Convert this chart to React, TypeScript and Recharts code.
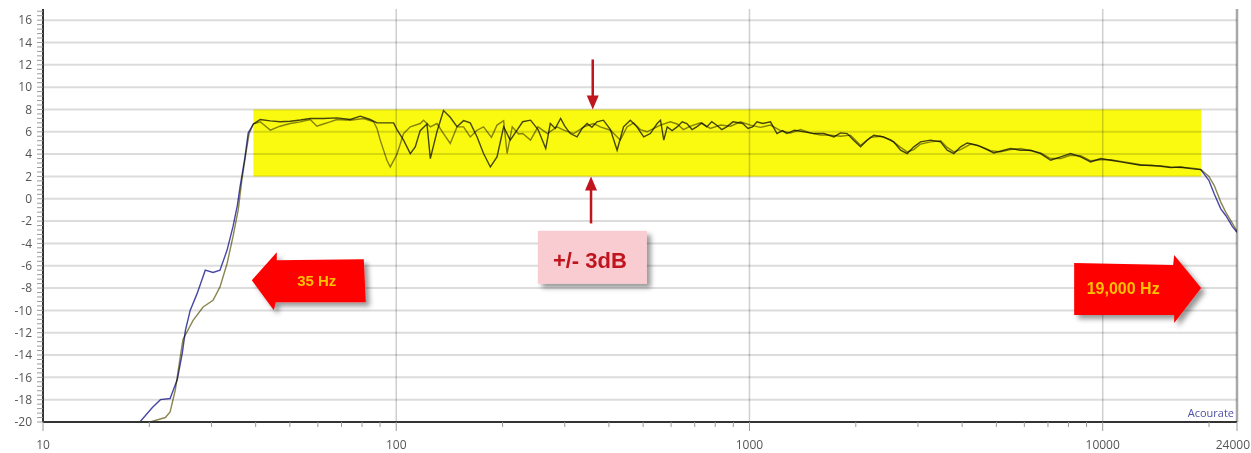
import React from 'react';
import { LineChart, Line, XAxis, YAxis, ReferenceLine, ReferenceArea, ReferenceDot } from 'recharts';

// ---- data ----
const aFreq = [18.8, 20.4, 21.5, 22.9, 24.0, 24.8, 25.3, 26.1, 27.3, 28.8, 30.3, 31.7, 33.2, 34.5, 35.5, 36.1, 37.3, 38.1, 39.4, 41.2, 44.0, 46.9, 50.1, 53.5, 57.1, 62.2, 67.9, 74.1, 79.1, 84.4, 88.2, 94.1, 98.3, 100.5, 104.9, 109.6, 113.2, 116.9, 122.2, 124.9, 130.4, 136.1, 142.2, 148.6, 155.1, 162.0, 169.3, 176.7, 184.7, 192.9, 201.4, 210.3, 219.8, 228, 240, 252, 265, 273, 282, 292, 300, 311, 325, 336, 347, 358, 370, 386, 404, 422, 440, 460, 480, 502, 524, 548, 560, 572, 585, 604, 624, 645, 665, 688, 709, 733, 757, 782, 808, 835, 862, 898, 957, 990, 1020, 1050, 1090, 1147, 1196, 1240, 1276, 1340, 1428, 1523, 1625, 1734, 1810, 1890, 1972, 2063, 2153, 2248, 2397, 2560, 2678, 2796, 2920, 3051, 3256, 3476, 3628, 3790, 3960, 4134, 4410, 4706, 4915, 5250, 5488, 5857, 6252, 6674, 7123, 7603, 8115, 8664, 9248, 9870, 10536, 11246, 12003, 12812, 13677, 14599, 15582, 16634, 17754, 18951, 19980, 20680, 21593, 22300, 23300, 24000];
const aDb = [-20, -18.7, -18.0, -17.9, -16.2, -13.8, -11.8, -10.0, -8.5, -6.4, -6.6, -6.4, -4.6, -2.5, -0.6, 1.0, 3.7, 5.9, 6.7, 7.1, 6.98, 6.9, 6.95, 7.05, 7.19, 7.19, 7.25, 7.1, 7.4, 7.1, 6.8, 6.8, 6.8, 6.2, 5.25, 4.05, 4.65, 6.1, 6.7, 3.6, 6.0, 7.9, 7.3, 6.45, 7.0, 6.8, 5.55, 4.05, 2.85, 3.75, 6.45, 5.25, 6.15, 6.9, 7.04, 6.2, 4.5, 6.74, 6.3, 7.19, 6.5, 5.84, 5.54, 6.3, 6.74, 6.4, 6.89, 7.04, 6.2, 4.35, 6.44, 7.04, 6.44, 5.54, 5.84, 6.74, 7.04, 5.25, 6.44, 6.1, 6.44, 6.9, 6.74, 6.2, 6.44, 6.8, 6.44, 6.9, 6.59, 6.2, 6.44, 6.89, 6.74, 6.3, 6.44, 6.9, 6.74, 6.89, 5.84, 6.1, 5.84, 6.14, 5.99, 5.84, 5.84, 5.54, 5.9, 5.84, 5.25, 4.65, 5.25, 5.69, 5.54, 5.1, 4.35, 4.05, 4.65, 5.1, 5.25, 5.1, 4.35, 4.05, 4.65, 5.0, 4.8, 4.4, 4.1, 4.35, 4.5, 4.35, 4.35, 4.05, 3.45, 3.75, 4.05, 3.75, 3.3, 3.6, 3.45, 3.3, 3.15, 3.0, 3.0, 2.91, 2.79, 2.85, 2.7, 2.61, 1.65, 0.45, -0.9, -1.5, -2.5, -3.0];

const bFreq = [20.1, 22.2, 22.9, 23.7, 24.4, 24.9, 26.6, 28.4, 30.3, 31.7, 33.2, 34.5, 35.7, 36.5, 37.5, 38.3, 39.4, 41.2, 44.0, 46.9, 50.1, 53.5, 57.1, 59.6, 62.2, 65.0, 67.9, 74.1, 80.8, 86.3, 88.2, 90.1, 94.1, 96.2, 100.5, 104.9, 109.6, 116.9, 119.5, 124.9, 130.4, 136.1, 142.2, 148.6, 155.1, 162.0, 169.3, 176.7, 186, 192.9, 201.4, 206, 213, 222, 228, 240, 252, 268, 285, 298, 318, 340, 362, 378, 404, 431, 450, 470, 491, 513, 536, 560, 597, 624, 650, 681, 727, 775, 828, 884, 943, 1006, 1074, 1147, 1224, 1306, 1395, 1489, 1589, 1696, 1811, 1932, 2063, 2202, 2350, 2508, 2678, 2796, 2920, 3051, 3256, 3476, 3628, 3790, 3960, 4228, 4512, 4816, 5140, 5488, 5857, 6252, 6674, 7123, 7603, 8115, 8664, 9248, 9870, 10536, 11246, 12003, 12812, 13677, 14599, 15582, 16634, 17754, 18951, 19980, 20680, 21593, 22300, 23300, 24000];
const bDb = [-20, -19.6, -19.1, -17.1, -14.4, -12.6, -10.9, -9.7, -9.1, -7.9, -5.8, -3.4, -1.0, 1.5, 4.0, 5.8, 6.7, 6.9, 6.15, 6.5, 6.74, 6.89, 7.1, 6.5, 6.7, 6.89, 7.1, 7.04, 7.19, 6.9, 6.3, 5.25, 3.45, 2.85, 4.0, 5.84, 6.44, 6.74, 7.04, 6.44, 6.74, 5.84, 4.95, 6.44, 6.44, 5.54, 6.14, 6.44, 5.5, 6.6, 7.0, 4.05, 6.44, 5.8, 5.84, 5.25, 6.44, 5.84, 6.44, 6.14, 5.84, 6.44, 6.74, 6.44, 6.14, 5.25, 6.44, 6.8, 6.2, 6.0, 6.3, 6.6, 6.9, 6.7, 6.2, 6.5, 6.8, 6.3, 6.6, 6.5, 6.9, 6.6, 6.4, 6.6, 6.1, 5.9, 6.2, 5.9, 5.7, 5.7, 5.6, 5.7, 4.8, 5.5, 5.6, 5.3, 4.6, 4.2, 4.4, 4.9, 5.1, 5.2, 4.6, 4.2, 4.4, 4.9, 4.7, 4.3, 4.2, 4.4, 4.5, 4.3, 4.1, 3.6, 3.6, 3.9, 3.85, 3.4, 3.5, 3.5, 3.35, 3.2, 3.05, 2.95, 2.95, 2.85, 2.8, 2.75, 2.62, 2.0, 1.2, -0.3, -1.2, -2.2, -2.9];

const yMajor = [-20, -18, -16, -14, -12, -10, -8, -6, -4, -2, 0, 2, 4, 6, 8, 10, 12, 14, 16];
const yTicks = Array.from({ length: 93 }, (_, i) => Math.round((-20 + i * 0.4) * 10) / 10);
const xTicks = [10, 20, 30, 40, 50, 60, 70, 80, 90, 100, 200, 300, 400, 500, 600, 700, 800, 900, 1000, 2000, 3000, 4000, 5000, 6000, 7000, 8000, 9000, 10000, 20000, 24000];
const xLabels = [10, 100, 1000, 10000, 24000];
const vGrid = [100, 1000, 10000];

const seriesA = aFreq.map((f, i) => ({ f, db: aDb[i] }));
const seriesB = bFreq.map((f, i) => ({ f, db: bDb[i] }));

const tickFont = "'Open Sans', 'DejaVu Sans', sans-serif";
const annFont = "'Liberation Sans', Arial, sans-serif";

const XTick = (props: any) => {
  const { x, y, payload } = props;
  const v = payload.value;
  const major = xLabels.includes(v);
  const last = v === 24000;
  return (
    <g>
      <line x1={x} x2={x} y1={y} y2={y + (major ? 9 : 5)} stroke="#9a9a9a" strokeWidth={1} />
      {major && (
        <text x={last ? x + 13 : x} y={y + 27} textAnchor={last ? 'end' : 'middle'} fontSize={12} fontFamily={tickFont} fill="#555">
          {v}
        </text>
      )}
    </g>
  );
};

const YTick = (props: any) => {
  const { x, y, payload } = props;
  const v = payload.value;
  const major = yMajor.includes(v);
  return (
    <g>
      <line x1={x - 6} x2={x} y1={y} y2={y} stroke="#9a9a9a" strokeWidth={1} />
      {major && (
        <text x={x - 11} y={y} dy="0.36em" textAnchor="end" fontSize={12} fontFamily={tickFont} fill="#555">
          {v}
        </text>
      )}
    </g>
  );
};

const Shadow = ({ id }: { id: string }) => (
  <defs>
    <filter id={id} x="-20%" y="-20%" width="150%" height="160%">
      <feDropShadow dx="4" dy="4" stdDeviation="2.5" floodColor="#000" floodOpacity="0.4" />
    </filter>
  </defs>
);

const LeftArrow = ({ cx, cy }: any) => (
  <g>
    <Shadow id="shL" />
    <polygon
      points={`${cx},${cy} ${cx + 25},${cy - 28} ${cx + 25},${cy - 20} ${cx + 112},${cy - 21} ${cx + 114},${cy + 22} ${cx + 24},${cy + 22} ${cx + 22},${cy + 30}`}
      fill="#ff0000"
      filter="url(#shL)"
    />
    <text x={cx + 65} y={cy + 1} dy="0.35em" textAnchor="middle" fontSize={15} fontWeight="bold" fontFamily={annFont} fill="#ffc000">
      35 Hz
    </text>
  </g>
);

const RightArrow = ({ cx, cy }: any) => (
  <g>
    <Shadow id="shR" />
    <polygon
      points={`${cx},${cy} ${cx - 27},${cy + 35} ${cx - 27},${cy + 27} ${cx - 127},${cy + 27} ${cx - 127},${cy - 25} ${cx - 28},${cy - 23} ${cx - 27},${cy - 33}`}
      fill="#ff0000"
      filter="url(#shR)"
    />
    <text x={cx - 78} y={cy} dy="0.35em" textAnchor="middle" fontSize={16} fontWeight="bold" fontFamily={annFont} fill="#ffc000">
      19,000 Hz
    </text>
  </g>
);

const DownArrow = ({ cx, cy }: any) => (
  <g>
    <line x1={cx} x2={cx} y1={cy - 50} y2={cy - 12} stroke="#c0141e" strokeWidth={2.5} />
    <polygon points={`${cx - 6},${cy - 14} ${cx + 6},${cy - 14} ${cx},${cy}`} fill="#c0141e" />
  </g>
);

const UpArrow = ({ cx, cy }: any) => (
  <g>
    <line x1={cx} x2={cx} y1={cy + 12} y2={cy + 47} stroke="#c0141e" strokeWidth={2.5} />
    <polygon points={`${cx - 6},${cy + 14} ${cx + 6},${cy + 14} ${cx},${cy}`} fill="#c0141e" />
  </g>
);

const LabelBox = ({ cx, cy }: any) => (
  <g>
    <Shadow id="shB" />
    <rect x={cx - 54} y={cy - 26} width={109} height={53} fill="#f8ccd0" filter="url(#shB)" />
    <text x={cx - 2} y={cy + 3} dy="0.35em" textAnchor="middle" fontSize={22} fontWeight="bold" fontFamily={annFont} fill="#c0141e">
      +/- 3dB
    </text>
  </g>
);

const Brand = ({ cx, cy }: any) => (
  <text x={cx - 3} y={cy - 5} textAnchor="end" fontSize={11} fontFamily={tickFont} fill="#5050a8">
    Acourate
  </text>
);

const css = `
body { margin: 0; background: #fff; }
.recharts-reference-area-rect, .recharts-line-curve, .recharts-reference-line line { mix-blend-mode: multiply; }
`;

export default function App() {
  return (
    <div style={{ width: 1251, height: 453, background: '#fff' }}>
      <style>{css}</style>
      <LineChart width={1251} height={453} margin={{ top: 9, right: 14, bottom: 6, left: 8 }}>
        <XAxis
          dataKey="f"
          type="number"
          scale="log"
          domain={[10, 24000]}
          allowDataOverflow
          ticks={xTicks}
          interval={0}
          tick={<XTick />}
          tickLine={false}
          tickSize={0}
          tickMargin={0}
          height={25}
          axisLine={{ stroke: '#333', strokeWidth: 2 }}
        />
        <YAxis
          type="number"
          domain={[-20, 17]}
          allowDataOverflow
          ticks={yTicks}
          interval={0}
          tick={<YTick />}
          tickLine={false}
          tickSize={0}
          tickMargin={0}
          width={35}
          axisLine={{ stroke: '#333', strokeWidth: 2 }}
        />
        {yMajor.map((v) => (
          <ReferenceLine key={'h' + v} y={v} stroke="#dcdcdc" strokeWidth={2} />
        ))}
        {vGrid.map((v) => (
          <ReferenceLine key={'v' + v} x={v} stroke="#cfcfcf" strokeWidth={1.5} />
        ))}
        <ReferenceLine x={24000} stroke="#a8a8a8" strokeWidth={2.5} />
        <ReferenceArea x1={39.4} x2={19000} y1={2} y2={8} fill="#fafa10" fillOpacity={1} stroke="none" />
        <Line data={seriesB} dataKey="db" type="linear" stroke="#8a8650" strokeWidth={1.4} dot={false} isAnimationActive={false} />
        <Line data={seriesA} dataKey="db" type="linear" stroke="#4848a8" strokeWidth={1.4} dot={false} isAnimationActive={false} />
        <ReferenceDot x={39} y={-7.3} shape={(p: any) => <LeftArrow cx={p.cx} cy={p.cy} />} />
        <ReferenceDot x={19000} y={-8} shape={(p: any) => <RightArrow cx={p.cx} cy={p.cy} />} />
        <ReferenceDot x={360} y={8} shape={(p: any) => <DownArrow cx={p.cx} cy={p.cy} />} />
        <ReferenceDot x={356} y={2} shape={(p: any) => <UpArrow cx={p.cx} cy={p.cy} />} />
        <ReferenceDot x={358} y={-5.2} shape={(p: any) => <LabelBox cx={p.cx} cy={p.cy} />} />
        <ReferenceDot x={24000} y={-20} shape={(p: any) => <Brand cx={p.cx} cy={p.cy} />} />
      </LineChart>
    </div>
  );
}
